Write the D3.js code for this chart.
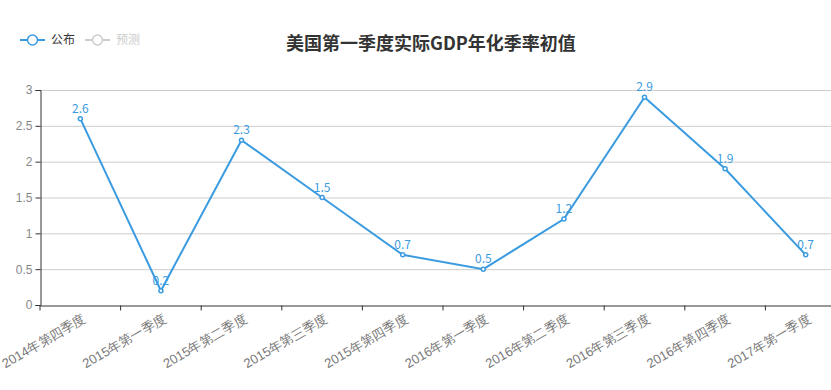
<!DOCTYPE html>
<meta charset="utf-8">
<style>
body { margin: 0; background: #fff; }
svg { font-family: "Noto Sans CJK SC", "Noto Sans", sans-serif; }
.grid line { stroke: #ccc; }
</style>
<svg width="831" height="390"></svg>
<script src="https://d3js.org/d3.v7.min.js"></script>
<script>
var quarters = ["2014年第四季度", "2015年第一季度", "2015年第二季度", "2015年第三季度", "2015年第四季度",
  "2016年第一季度", "2016年第二季度", "2016年第三季度", "2016年第四季度", "2017年第一季度"];
var published = [2.6, 0.2, 2.3, 1.5, 0.7, 0.5, 1.2, 2.9, 1.9, 0.7];
var yTicks = [0, 0.5, 1, 1.5, 2, 2.5, 3];
var seriesNames = ["公布", "预测"];

var svg = d3.select("svg");
var blue = "#3a9be0";

var x = d3.scaleBand().domain(quarters).range([40, 846]);
var y = d3.scaleLinear().domain([0, 3]).range([305, 90]);

// grid
svg.append("g").attr("class", "grid")
  .selectAll("line").data(yTicks.slice(1)).enter().append("line")
  .attr("x1", 40).attr("x2", 831)
  .attr("y1", function(d) { return y(d) + 0.5; })
  .attr("y2", function(d) { return y(d) + 0.5; });

// y axis
var yAxis = svg.append("g").attr("transform", "translate(40.5,0)")
  .call(d3.axisLeft(y).tickValues(yTicks).tickSize(5).tickPadding(3).tickFormat(d3.format("")));
yAxis.select(".domain").attr("stroke", "#333");
yAxis.selectAll(".tick line").attr("stroke", "#333");
yAxis.selectAll("text").attr("fill", "#888").style("font-size", "12px");

// x axis
var xAxis = svg.append("g").attr("transform", "translate(0,305.5)")
  .call(d3.axisBottom(x).tickSize(5).tickSizeOuter(0));
xAxis.select(".domain").attr("stroke", "#333");
xAxis.selectAll(".tick line").attr("stroke", "#333")
  .attr("transform", "translate(" + (-x.bandwidth() / 2) + ",0)");
xAxis.selectAll("text").attr("fill", "#777").style("font-size", "13px")
  .attr("text-anchor", "end")
  .attr("transform", "translate(4,12) rotate(-30)")
  .attr("dy", "0.35em").attr("y", 0).attr("x", 0);

// line
var line = d3.line()
  .x(function(d, i) { return x(quarters[i]) + x.bandwidth() / 2; })
  .y(function(d) { return y(d); });

svg.append("path").datum(published)
  .attr("fill", "none").attr("stroke", blue).attr("stroke-width", 2)
  .attr("d", line);

svg.append("g").selectAll("circle").data(published).enter().append("circle")
  .attr("cx", function(d, i) { return x(quarters[i]) + x.bandwidth() / 2; })
  .attr("cy", function(d) { return y(d); })
  .attr("r", 2).attr("fill", "#fff").attr("stroke", blue).attr("stroke-width", 1.5);

svg.append("g").selectAll("text").data(published).enter().append("text")
  .attr("x", function(d, i) { return x(quarters[i]) + x.bandwidth() / 2; })
  .attr("y", function(d) { return y(d) - 6; })
  .attr("text-anchor", "middle").attr("fill", blue).style("font-size", "12px")
  .text(function(d) { return d; });

// title
svg.append("text").attr("x", 431).attr("y", 50).attr("text-anchor", "middle")
  .attr("fill", "#333").style("font-size", "18px").style("font-weight", "bold")
  .text("美国第一季度实际GDP年化季率初值");

// legend
var legendColors = [blue, "#ccc"];
var legendText = ["#333", "#ccc"];
var lg = svg.append("g").selectAll("g").data(seriesNames).enter().append("g")
  .attr("transform", function(d, i) { return "translate(" + (20 + i * 65) + ",40)"; });
lg.append("line").attr("x1", 0).attr("x2", 25)
  .attr("stroke", function(d, i) { return legendColors[i]; }).attr("stroke-width", 2);
lg.append("circle").attr("cx", 12.5).attr("r", 5).attr("fill", "#fff")
  .attr("stroke", function(d, i) { return legendColors[i]; }).attr("stroke-width", 1.5);
lg.append("text").attr("x", 31).attr("dy", "0.35em")
  .attr("fill", function(d, i) { return legendText[i]; }).style("font-size", "12px")
  .text(function(d) { return d; });
</script>
